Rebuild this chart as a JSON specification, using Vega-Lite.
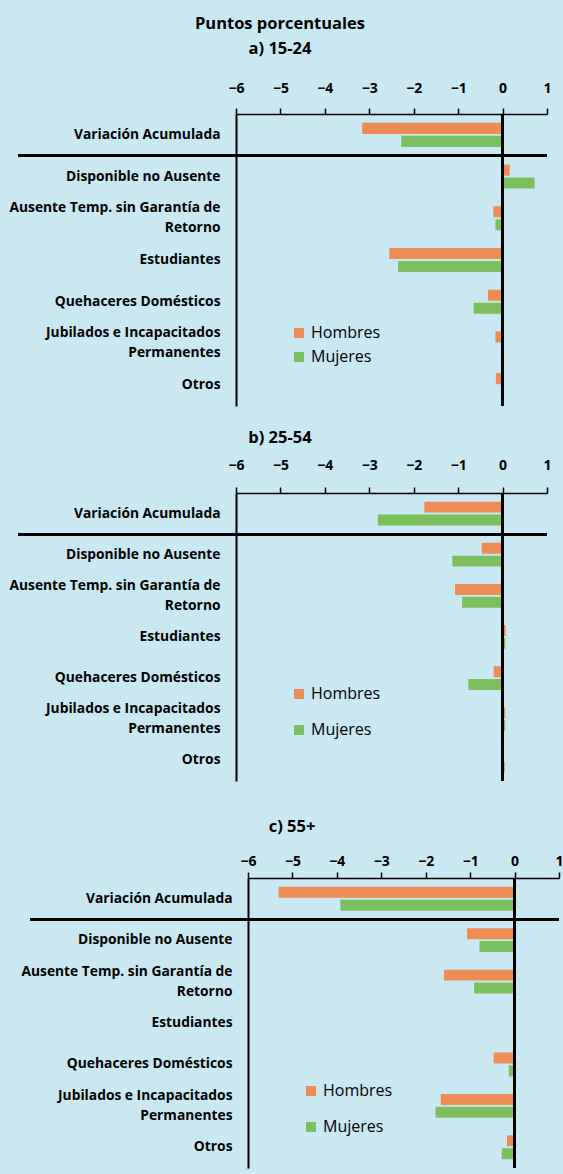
{
  "$schema": "https://vega.github.io/schema/vega-lite/v6.json",
  "background": "#C9E8F1",
  "padding": {"left": 8, "top": 15, "right": 0, "bottom": 7},
  "config": {
    "view": {"stroke": null},
    "font": "Open Sans",
    "title": {"font": "Open Sans", "fontSize": 16.5, "fontWeight": "bold", "color": "black", "anchor": "middle", "frame": "bounds", "lineHeight": 25},
    "axisY": {"title": null, "ticks": false, "domainColor": "black", "domainWidth": 2, "labelPadding": 16, "labelFont": "Open Sans", "labelFontSize": 13.8, "labelFontWeight": "bold", "labelColor": "black", "labelExpr": "split(datum.label, '|')", "labelLineHeight": 20, "labelLimit": 400, "labelOffset": {"condition": {"test": "indexof(datum.label, '|') >= 0", "value": -10}, "value": 0}},
    "axisX": {"title": null, "grid": false, "orient": "top", "values": [-6, -5, -4, -3, -2, -1, 0, 1], "tickSize": 6, "tickColor": "black", "tickWidth": 1.5, "domainColor": "black", "domainWidth": 1.5, "labelFont": "Open Sans", "labelFontSize": 14, "labelFontWeight": "bold", "labelColor": "black", "labelFlush": false, "labelPadding": 8},
    "legend": {"orient": "none", "title": null, "symbolType": "square", "symbolSize": 100, "labelFont": "Open Sans", "labelFontSize": 16, "labelColor": "black", "symbolStrokeWidth": 0}
  },
  "datasets": {
    "a": [
      {"categoria": "Variación Acumulada", "sexo": "Hombres", "valor": -3.16},
      {"categoria": "Variación Acumulada", "sexo": "Mujeres", "valor": -2.28},
      {"categoria": "Disponible no Ausente", "sexo": "Hombres", "valor": 0.16},
      {"categoria": "Disponible no Ausente", "sexo": "Mujeres", "valor": 0.72},
      {"categoria": "Ausente Temp. sin Garantía de|Retorno", "sexo": "Hombres", "valor": -0.21},
      {"categoria": "Ausente Temp. sin Garantía de|Retorno", "sexo": "Mujeres", "valor": -0.16},
      {"categoria": "Estudiantes", "sexo": "Hombres", "valor": -2.55},
      {"categoria": "Estudiantes", "sexo": "Mujeres", "valor": -2.35},
      {"categoria": "Quehaceres Domésticos", "sexo": "Hombres", "valor": -0.33},
      {"categoria": "Quehaceres Domésticos", "sexo": "Mujeres", "valor": -0.65},
      {"categoria": "Jubilados e Incapacitados|Permanentes", "sexo": "Hombres", "valor": -0.16},
      {"categoria": "Jubilados e Incapacitados|Permanentes", "sexo": "Mujeres", "valor": -0.03},
      {"categoria": "Otros", "sexo": "Hombres", "valor": -0.15},
      {"categoria": "Otros", "sexo": "Mujeres", "valor": 0.0}
    ],
    "b": [
      {"categoria": "Variación Acumulada", "sexo": "Hombres", "valor": -1.76},
      {"categoria": "Variación Acumulada", "sexo": "Mujeres", "valor": -2.81},
      {"categoria": "Disponible no Ausente", "sexo": "Hombres", "valor": -0.47},
      {"categoria": "Disponible no Ausente", "sexo": "Mujeres", "valor": -1.13},
      {"categoria": "Ausente Temp. sin Garantía de|Retorno", "sexo": "Hombres", "valor": -1.07},
      {"categoria": "Ausente Temp. sin Garantía de|Retorno", "sexo": "Mujeres", "valor": -0.91},
      {"categoria": "Estudiantes", "sexo": "Hombres", "valor": 0.07},
      {"categoria": "Estudiantes", "sexo": "Mujeres", "valor": 0.06},
      {"categoria": "Quehaceres Domésticos", "sexo": "Hombres", "valor": -0.2},
      {"categoria": "Quehaceres Domésticos", "sexo": "Mujeres", "valor": -0.77},
      {"categoria": "Jubilados e Incapacitados|Permanentes", "sexo": "Hombres", "valor": 0.06},
      {"categoria": "Jubilados e Incapacitados|Permanentes", "sexo": "Mujeres", "valor": 0.06},
      {"categoria": "Otros", "sexo": "Hombres", "valor": -0.03},
      {"categoria": "Otros", "sexo": "Mujeres", "valor": 0.05}
    ],
    "c": [
      {"categoria": "Variación Acumulada", "sexo": "Hombres", "valor": -5.31},
      {"categoria": "Variación Acumulada", "sexo": "Mujeres", "valor": -3.92},
      {"categoria": "Disponible no Ausente", "sexo": "Hombres", "valor": -1.07},
      {"categoria": "Disponible no Ausente", "sexo": "Mujeres", "valor": -0.79},
      {"categoria": "Ausente Temp. sin Garantía de|Retorno", "sexo": "Hombres", "valor": -1.59},
      {"categoria": "Ausente Temp. sin Garantía de|Retorno", "sexo": "Mujeres", "valor": -0.91},
      {"categoria": "Estudiantes", "sexo": "Hombres", "valor": 0.0},
      {"categoria": "Estudiantes", "sexo": "Mujeres", "valor": 0.0},
      {"categoria": "Quehaceres Domésticos", "sexo": "Hombres", "valor": -0.47},
      {"categoria": "Quehaceres Domésticos", "sexo": "Mujeres", "valor": -0.13},
      {"categoria": "Jubilados e Incapacitados|Permanentes", "sexo": "Hombres", "valor": -1.66},
      {"categoria": "Jubilados e Incapacitados|Permanentes", "sexo": "Mujeres", "valor": -1.78},
      {"categoria": "Otros", "sexo": "Hombres", "valor": -0.17},
      {"categoria": "Otros", "sexo": "Mujeres", "valor": -0.29}
    ]
  },
  "spacing": 22,
  "resolve": {"scale": {"color": "independent", "x": "independent", "y": "independent", "yOffset": "independent"}, "legend": {"color": "independent"}},
  "vconcat": [
    {
      "width": 311, "height": 292,
      "title": {"text": ["Puntos porcentuales", "a) 15-24"], "offset": 24},
      "data": {"name": "a"},
      "layer": [
        {
          "mark": {"type": "bar"},
          "encoding": {
            "y": {"field": "categoria", "type": "nominal", "sort": null, "scale": {"paddingInner": 0, "paddingOuter": 0}},
            "x": {"field": "valor", "type": "quantitative", "scale": {"domain": [-6, 1], "nice": false, "zero": false}, "axis": {"labelPadding": 13}},
            "yOffset": {"field": "sexo", "sort": ["Hombres", "Mujeres"], "scale": {"paddingInner": 0.15, "paddingOuter": 0.68}},
            "color": {"field": "sexo", "type": "nominal", "scale": {"domain": ["Hombres", "Mujeres"], "range": ["#EE8C55", "#7BBF5E"]}, "legend": {"legendX": 55, "legendY": 211, "rowPadding": 8}}
          }
        },
        {"mark": {"type": "rule", "color": "black", "strokeWidth": 2}, "encoding": {"x": {"datum": 0}}},
        {"mark": {"type": "rule", "color": "black", "strokeWidth": 2, "clip": false}, "encoding": {"y": {"datum": "Disponible no Ausente", "bandPosition": 0}, "x": {"datum": -10.9}, "x2": {"datum": 1}}}
      ]
    },
    {
      "width": 311, "height": 288,
      "title": {"text": "b) 25-54", "offset": 12},
      "data": {"name": "b"},
      "layer": [
        {
          "mark": {"type": "bar"},
          "encoding": {
            "y": {"field": "categoria", "type": "nominal", "sort": null, "scale": {"paddingInner": 0, "paddingOuter": 0}},
            "x": {"field": "valor", "type": "quantitative", "scale": {"domain": [-6, 1], "nice": false, "zero": false}, "axis": {"labelPadding": 15}},
            "yOffset": {"field": "sexo", "sort": ["Hombres", "Mujeres"], "scale": {"paddingInner": 0.15, "paddingOuter": 0.68}},
            "color": {"field": "sexo", "type": "nominal", "scale": {"domain": ["Hombres", "Mujeres"], "range": ["#EE8C55", "#7BBF5E"]}, "legend": {"legendX": 55, "legendY": 193, "rowPadding": 20}}
          }
        },
        {"mark": {"type": "rule", "color": "black", "strokeWidth": 2}, "encoding": {"x": {"datum": 0}}},
        {"mark": {"type": "rule", "color": "black", "strokeWidth": 2, "clip": false}, "encoding": {"y": {"datum": "Disponible no Ausente", "bandPosition": 0}, "x": {"datum": -10.9}, "x2": {"datum": 1}}}
      ]
    },
    {
      "width": 323, "height": 290,
      "title": {"text": ["", "c) 55+"], "offset": 19, "lineHeight": 14},
      "data": {"name": "c"},
      "layer": [
        {
          "mark": {"type": "bar"},
          "encoding": {
            "y": {"field": "categoria", "type": "nominal", "sort": null, "scale": {"paddingInner": 0, "paddingOuter": 0}, "axis": {"offset": -12}},
            "x": {"field": "valor", "type": "quantitative", "scale": {"domain": [-6, 1], "nice": false, "zero": false, "range": [12, 323]}, "axis": {"labelPadding": 4}},
            "yOffset": {"field": "sexo", "sort": ["Hombres", "Mujeres"], "scale": {"paddingInner": 0.15, "paddingOuter": 0.68}},
            "color": {"field": "sexo", "type": "nominal", "scale": {"domain": ["Hombres", "Mujeres"], "range": ["#EE8C55", "#7BBF5E"]}, "legend": {"legendX": 67, "legendY": 205, "rowPadding": 20}}
          }
        },
        {"mark": {"type": "rule", "color": "black", "strokeWidth": 2}, "encoding": {"x": {"datum": 0}}},
        {"mark": {"type": "rule", "color": "black", "strokeWidth": 2, "clip": false}, "encoding": {"y": {"datum": "Disponible no Ausente", "bandPosition": 0}, "x": {"datum": -10.9}, "x2": {"datum": 1}}}
      ]
    }
  ]
}
